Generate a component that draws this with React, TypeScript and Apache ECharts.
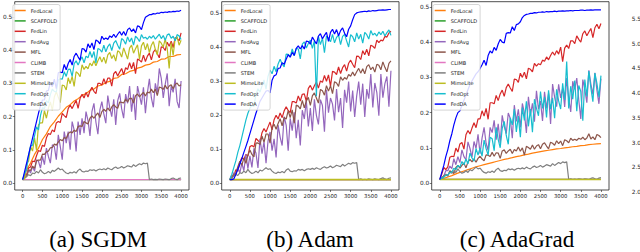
import React, { useEffect, useRef } from "react";
import * as echarts from "echarts";

const NAMES = ["FedLocal", "SCAFFOLD", "FedLin", "FedAvg", "MFL", "CLIMB", "STEM", "MimeLite", "FedOpt", "FedDA"];
const COLORS = ["#ff7f0e", "#2ca02c", "#d62728", "#9467bd", "#8c564b", "#e377c2", "#7f7f7f", "#bcbd22", "#17becf", "#0000ff"];
const CAPTIONS = ["(a) SGDM", "(b) Adam", "(c) AdaGrad"];
const X_TICKS = [0, 500, 1000, 1500, 2000, 2500, 3000, 3500, 4000];
const Y_TICKS = [0, 0.1, 0.2, 0.3, 0.4, 0.5];
const LAST_STEP = 4000;

const FLAT = [0.01, 0.01];

const STEM = [
  0.01, 0.015, 0.02, 0.025, 0.022, 0.03, 0.028, 0.035, 0.03, 0.04, 0.032,
  0.028, 0.03, 0.035, 0.03, 0.038, 0.035, 0.04, 0.045, 0.04, 0.042,
  0.035, 0.03, 0.028, 0.032, 0.03, 0.034, 0.03, 0.038, 0.042, 0.035,
  0.033, 0.036, 0.035, 0.04, 0.038, 0.04, 0.036, 0.04, 0.042, 0.04,
  0.043, 0.04, 0.045, 0.042, 0.04, 0.045, 0.048, 0.044, 0.046, 0.05,
  0.045, 0.048, 0.052, 0.05, 0.048, 0.055, 0.05, 0.054, 0.058, 0.055,
  0.06, 0.058, 0.06, 0.01, 0.012, 0.01, 0.011, 0.01, 0.012, 0.011,
  0.01, 0.012, 0.011, 0.01, 0.013, 0.015, 0.012, 0.01, 0.014, 0.015,
];

// ---- (a) SGDM ----
const SGDM_FEDLOCAL = [
  0.01, 0.04, 0.06, 0.086, 0.105, 0.131, 0.148, 0.17, 0.184, 0.201, 0.214,
  0.228, 0.236, 0.247, 0.254, 0.264, 0.269, 0.279, 0.283, 0.292, 0.295,
  0.303, 0.306, 0.315, 0.317, 0.327, 0.329, 0.336, 0.339, 0.346, 0.349,
  0.355, 0.357, 0.364, 0.366, 0.373, 0.374, 0.381, 0.381, 0.386, 0.387,
];
const SGDM_FEDLIN = [
  0.01, 0.023, 0.026, 0.045, 0.048, 0.066, 0.064, 0.082, 0.098, 0.095, 0.114,
  0.11, 0.136, 0.149, 0.146, 0.16, 0.154, 0.181, 0.185, 0.182, 0.21,
  0.203, 0.197, 0.224, 0.235, 0.224, 0.237, 0.249, 0.225, 0.255, 0.267,
  0.256, 0.273, 0.259, 0.277, 0.288, 0.276, 0.269, 0.3, 0.3, 0.295,
  0.314, 0.298, 0.316, 0.316, 0.292, 0.329, 0.336, 0.322, 0.334, 0.345,
  0.326, 0.347, 0.342, 0.362, 0.344, 0.363, 0.329, 0.373, 0.37, 0.364,
  0.385, 0.366, 0.382, 0.391, 0.371, 0.394, 0.402, 0.389, 0.377, 0.41,
  0.408, 0.399, 0.424, 0.412, 0.427, 0.408, 0.438, 0.435, 0.428, 0.452,
];
const SGDM_FEDAVG = [
  0.01, 0.015, 0.02, 0.04, 0.03, 0.05, 0.035, 0.07, 0.065, 0.045, 0.08,
  0.055, 0.105, 0.08, 0.06, 0.115, 0.11, 0.07, 0.145, 0.11, 0.07,
  0.155, 0.12, 0.155, 0.1, 0.185, 0.16, 0.095, 0.185, 0.145, 0.195,
  0.15, 0.215, 0.188, 0.142, 0.216, 0.24, 0.183, 0.147, 0.22, 0.245,
  0.208, 0.18, 0.263, 0.226, 0.2, 0.252, 0.175, 0.248, 0.27, 0.223,
  0.195, 0.268, 0.24, 0.292, 0.215, 0.267, 0.19, 0.292, 0.264, 0.236,
  0.288, 0.21, 0.272, 0.314, 0.256, 0.228, 0.3, 0.272, 0.345, 0.315,
  0.256, 0.298, 0.33, 0.231, 0.292, 0.273, 0.314, 0.245, 0.226, 0.307,
];
const SGDM_MFL = [
  0.01, 0.018, 0.019, 0.039, 0.038, 0.051, 0.044, 0.067, 0.069, 0.069, 0.087,
  0.086, 0.094, 0.096, 0.106, 0.107, 0.117, 0.114, 0.123, 0.131, 0.127,
  0.137, 0.134, 0.148, 0.154, 0.151, 0.159, 0.155, 0.17, 0.172, 0.17,
  0.185, 0.181, 0.178, 0.195, 0.202, 0.195, 0.204, 0.211, 0.197, 0.215,
  0.222, 0.216, 0.226, 0.217, 0.229, 0.236, 0.229, 0.225, 0.244, 0.243,
  0.241, 0.253, 0.244, 0.255, 0.255, 0.241, 0.263, 0.268, 0.259, 0.267,
  0.273, 0.262, 0.274, 0.271, 0.283, 0.272, 0.283, 0.263, 0.289, 0.287,
  0.282, 0.294, 0.283, 0.292, 0.296, 0.284, 0.297, 0.301, 0.292, 0.296,
];
const SGDM_MIMELITE = [
  0.01, 0.012, 0.058, 0.066, 0.11, 0.096, 0.136, 0.099, 0.175, 0.181, 0.181,
  0.218, 0.195, 0.225, 0.244, 0.219, 0.259, 0.275, 0.258, 0.242, 0.295,
  0.293, 0.28, 0.317, 0.299, 0.321, 0.291, 0.335, 0.33, 0.32, 0.356,
  0.342, 0.351, 0.344, 0.361, 0.353, 0.368, 0.353, 0.368, 0.38, 0.364,
  0.379, 0.36, 0.386, 0.393, 0.375, 0.386, 0.367, 0.398, 0.394, 0.379,
  0.407, 0.39, 0.373, 0.406, 0.415, 0.391, 0.404, 0.416, 0.373, 0.413,
  0.424, 0.401, 0.42, 0.393, 0.415, 0.426, 0.402, 0.386, 0.428, 0.421,
  0.409, 0.434, 0.405, 0.345, 0.423, 0.384, 0.434, 0.441, 0.415, 0.43,
];
const SGDM_FEDOPT = [
  0.01, 0.029, 0.04, 0.084, 0.111, 0.114, 0.142, 0.169, 0.16, 0.203, 0.227,
  0.224, 0.248, 0.241, 0.266, 0.283, 0.276, 0.274, 0.31, 0.314, 0.313,
  0.335, 0.321, 0.342, 0.343, 0.321, 0.359, 0.368, 0.355, 0.369, 0.38,
  0.362, 0.382, 0.377, 0.396, 0.378, 0.396, 0.362, 0.405, 0.402, 0.394,
  0.415, 0.395, 0.411, 0.419, 0.399, 0.421, 0.429, 0.415, 0.403, 0.435,
  0.43, 0.418, 0.44, 0.425, 0.437, 0.415, 0.442, 0.436, 0.426, 0.447,
  0.436, 0.439, 0.433, 0.442, 0.436, 0.444, 0.433, 0.441, 0.448, 0.435,
  0.444, 0.43, 0.446, 0.449, 0.436, 0.442, 0.428, 0.447, 0.443, 0.432,
];
const SGDM_FEDDA = [
  0.01, 0.035, 0.06, 0.085, 0.11, 0.135, 0.16, 0.185, 0.21, 0.232, 0.25,
  0.25, 0.277, 0.279, 0.303, 0.29, 0.313, 0.284, 0.332, 0.334, 0.332,
  0.357, 0.341, 0.36, 0.372, 0.355, 0.381, 0.391, 0.38, 0.37, 0.405,
  0.403, 0.394, 0.419, 0.407, 0.422, 0.402, 0.431, 0.427, 0.419, 0.442,
  0.432, 0.437, 0.432, 0.443, 0.438, 0.448, 0.438, 0.448, 0.456, 0.445,
  0.456, 0.444, 0.462, 0.467, 0.456, 0.464, 0.452, 0.473, 0.471, 0.462,
  0.483, 0.499, 0.503, 0.507, 0.507, 0.51, 0.509, 0.512, 0.511, 0.514,
  0.513, 0.515, 0.514, 0.516, 0.515, 0.517, 0.516, 0.518, 0.517, 0.52,
];

// ---- (b) Adam ----
const ADAM_FEDLIN = [
  0.01, 0.023, 0.02, 0.039, 0.035, 0.061, 0.074, 0.069, 0.084, 0.079, 0.107,
  0.11, 0.106, 0.131, 0.125, 0.12, 0.148, 0.16, 0.15, 0.165, 0.179,
  0.156, 0.186, 0.199, 0.188, 0.206, 0.192, 0.212, 0.224, 0.213, 0.207,
  0.239, 0.239, 0.235, 0.256, 0.241, 0.261, 0.262, 0.24, 0.278, 0.287,
  0.273, 0.286, 0.297, 0.279, 0.3, 0.296, 0.316, 0.299, 0.318, 0.285,
  0.328, 0.326, 0.319, 0.341, 0.322, 0.339, 0.348, 0.329, 0.352, 0.361,
  0.349, 0.339, 0.373, 0.372, 0.363, 0.389, 0.377, 0.393, 0.374, 0.405,
  0.402, 0.396, 0.42, 0.413, 0.42, 0.418, 0.431, 0.429, 0.441, 0.446,
];
const ADAM_FEDAVG = [
  0.01, 0.012, 0.03, 0.025, 0.045, 0.03, 0.058, 0.036, 0.084, 0.042, 0.08,
  0.046, 0.102, 0.088, 0.044, 0.13, 0.086, 0.122, 0.058, 0.124, 0.15,
  0.095, 0.13, 0.075, 0.17, 0.135, 0.11, 0.195, 0.17, 0.095, 0.19,
  0.154, 0.208, 0.132, 0.186, 0.11, 0.214, 0.188, 0.242, 0.166, 0.22,
  0.153, 0.246, 0.199, 0.172, 0.245, 0.228, 0.151, 0.274, 0.207, 0.25,
  0.232, 0.184, 0.276, 0.208, 0.25, 0.162, 0.274, 0.236, 0.298, 0.21,
  0.272, 0.194, 0.256, 0.298, 0.23, 0.292, 0.194, 0.276, 0.248, 0.32,
  0.222, 0.294, 0.266, 0.198, 0.32, 0.251, 0.292, 0.313, 0.224, 0.33,
];
const ADAM_MFL = [
  0.01, 0.015, 0.025, 0.028, 0.048, 0.064, 0.052, 0.074, 0.058, 0.082, 0.097,
  0.084, 0.077, 0.117, 0.118, 0.113, 0.138, 0.12, 0.144, 0.144, 0.117,
  0.163, 0.173, 0.158, 0.175, 0.189, 0.168, 0.193, 0.188, 0.213, 0.192,
  0.215, 0.176, 0.229, 0.226, 0.218, 0.243, 0.221, 0.241, 0.252, 0.228,
  0.256, 0.265, 0.25, 0.235, 0.275, 0.271, 0.258, 0.286, 0.27, 0.286,
  0.263, 0.298, 0.294, 0.284, 0.312, 0.302, 0.31, 0.305, 0.319, 0.314,
  0.326, 0.315, 0.327, 0.337, 0.323, 0.336, 0.321, 0.342, 0.348, 0.333,
  0.341, 0.326, 0.349, 0.346, 0.333, 0.356, 0.34, 0.327, 0.352, 0.359,
];
const ADAM_FEDOPT = [
  0.01, 0.025, 0.045, 0.065, 0.09, 0.11, 0.135, 0.16, 0.185, 0.205, 0.22,
  0.228, 0.225, 0.261, 0.277, 0.267, 0.285, 0.303, 0.276, 0.314, 0.332,
  0.321, 0.343, 0.327, 0.35, 0.364, 0.35, 0.341, 0.379, 0.378, 0.371,
  0.394, 0.374, 0.396, 0.394, 0.365, 0.408, 0.415, 0.397, 0.41, 0.42,
  0.396, 0.418, 0.255, 0.431, 0.407, 0.426, 0.383, 0.432, 0.426, 0.415,
  0.437, 0.412, 0.428, 0.435, 0.407, 0.431, 0.437, 0.418, 0.4, 0.436,
  0.43, 0.415, 0.441, 0.423, 0.437, 0.411, 0.443, 0.436, 0.423, 0.448,
  0.435, 0.44, 0.432, 0.444, 0.436, 0.446, 0.432, 0.442, 0.45, 0.434,
];
const ADAM_FEDDA = [
  0.01, 0.01, 0.012, 0.025, 0.04, 0.055, 0.072, 0.09, 0.107, 0.125, 0.145,
  0.165, 0.185, 0.205, 0.222, 0.24, 0.25, 0.26, 0.27, 0.272, 0.265,
  0.302, 0.315, 0.318, 0.337, 0.338, 0.354, 0.349, 0.364, 0.377, 0.37,
  0.384, 0.375, 0.396, 0.403, 0.394, 0.404, 0.394, 0.417, 0.416, 0.408,
  0.429, 0.419, 0.409, 0.432, 0.439, 0.424, 0.434, 0.443, 0.416, 0.443,
  0.452, 0.438, 0.451, 0.433, 0.448, 0.456, 0.44, 0.43, 0.452, 0.462,
  0.48, 0.495, 0.5, 0.502, 0.503, 0.504, 0.505, 0.504, 0.506, 0.505,
  0.507, 0.506, 0.507, 0.508, 0.508, 0.509, 0.508, 0.509, 0.51, 0.51,
];

// ---- (c) AdaGrad ----
const ADA_FEDLOCAL = [
  0.01, 0.013, 0.017, 0.021, 0.026, 0.03, 0.034, 0.038, 0.042, 0.046, 0.049,
  0.052, 0.055, 0.058, 0.061, 0.064, 0.067, 0.069, 0.072, 0.075, 0.077,
  0.08, 0.082, 0.085, 0.087, 0.089, 0.091, 0.093, 0.095, 0.097, 0.098,
  0.1, 0.101, 0.103, 0.104, 0.106, 0.107, 0.109, 0.11, 0.111, 0.112,
];
const ADA_FEDLIN = [
  0.01, 0.025, 0.044, 0.038, 0.046, 0.073, 0.076, 0.075, 0.099, 0.088, 0.111,
  0.115, 0.096, 0.137, 0.149, 0.139, 0.156, 0.171, 0.157, 0.182, 0.182,
  0.205, 0.19, 0.212, 0.181, 0.228, 0.228, 0.225, 0.249, 0.234, 0.253,
  0.264, 0.246, 0.271, 0.281, 0.27, 0.26, 0.295, 0.294, 0.286, 0.312,
  0.3, 0.315, 0.296, 0.326, 0.323, 0.316, 0.34, 0.332, 0.339, 0.336,
  0.349, 0.346, 0.358, 0.35, 0.362, 0.372, 0.363, 0.376, 0.366, 0.386,
  0.345, 0.383, 0.392, 0.382, 0.404, 0.404, 0.396, 0.418, 0.408, 0.4,
  0.424, 0.432, 0.418, 0.429, 0.439, 0.413, 0.441, 0.451, 0.438, 0.453,
];
const ADA_FEDAVG = [
  0.01, 0.015, 0.02, 0.035, 0.035, 0.048, 0.041, 0.069, 0.052, 0.075, 0.058,
  0.094, 0.075, 0.066, 0.117, 0.098, 0.073, 0.118, 0.098, 0.138, 0.083,
  0.128, 0.158, 0.113, 0.093, 0.158, 0.143, 0.178, 0.123, 0.168, 0.113,
  0.192, 0.161, 0.14, 0.199, 0.183, 0.127, 0.221, 0.175, 0.209, 0.158,
  0.226, 0.199, 0.142, 0.245, 0.193, 0.226, 0.174, 0.262, 0.21, 0.233,
  0.176, 0.259, 0.212, 0.255, 0.168, 0.281, 0.244, 0.217, 0.28, 0.242,
  0.269, 0.216, 0.298, 0.24, 0.202, 0.289, 0.266, 0.298, 0.235, 0.182,
  0.294, 0.266, 0.228, 0.32, 0.281, 0.252, 0.313, 0.264, 0.225, 0.296,
];
const ADA_MFL = [
  0.01, 0.011, 0.021, 0.023, 0.02, 0.035, 0.031, 0.027, 0.044, 0.05, 0.042,
  0.05, 0.057, 0.043, 0.06, 0.067, 0.06, 0.069, 0.059, 0.07, 0.076,
  0.068, 0.063, 0.08, 0.079, 0.075, 0.087, 0.076, 0.086, 0.085, 0.07,
  0.091, 0.094, 0.084, 0.091, 0.096, 0.084, 0.095, 0.091, 0.102, 0.09,
  0.1, 0.079, 0.104, 0.101, 0.096, 0.108, 0.096, 0.105, 0.109, 0.097,
  0.11, 0.114, 0.105, 0.097, 0.116, 0.113, 0.107, 0.12, 0.112, 0.119,
  0.106, 0.123, 0.12, 0.114, 0.127, 0.121, 0.124, 0.121, 0.127, 0.124,
  0.13, 0.123, 0.128, 0.14, 0.125, 0.131, 0.123, 0.138, 0.135, 0.129,
];
const ADA_FEDOPT = [
  0.01, 0.014, 0.016, 0.022, 0.023, 0.03, 0.031, 0.042, 0.038, 0.05, 0.045,
  0.061, 0.052, 0.068, 0.054, 0.085, 0.071, 0.062, 0.098, 0.079, 0.1,
  0.076, 0.122, 0.098, 0.079, 0.13, 0.126, 0.092, 0.158, 0.124, 0.1,
  0.155, 0.175, 0.135, 0.11, 0.185, 0.165, 0.21, 0.145, 0.19, 0.13,
  0.214, 0.178, 0.232, 0.161, 0.21, 0.144, 0.238, 0.212, 0.191, 0.26,
  0.212, 0.244, 0.186, 0.263, 0.21, 0.242, 0.184, 0.266, 0.233, 0.21,
  0.283, 0.236, 0.345, 0.212, 0.275, 0.238, 0.291, 0.204, 0.277, 0.26,
  0.177, 0.294, 0.246, 0.318, 0.27, 0.231, 0.312, 0.283, 0.244, 0.305,
];
const ADA_FEDDA = [
  0.01, 0.03, 0.05, 0.075, 0.095, 0.12, 0.14, 0.165, 0.185, 0.2, 0.205,
  0.22, 0.235, 0.25, 0.265, 0.28, 0.29, 0.3, 0.31, 0.316, 0.325,
  0.336, 0.349, 0.334, 0.362, 0.375, 0.369, 0.385, 0.377, 0.395, 0.408,
  0.4, 0.398, 0.425, 0.427, 0.426, 0.444, 0.433, 0.45, 0.452, 0.458,
  0.47, 0.476, 0.479, 0.48, 0.482, 0.482, 0.484, 0.483, 0.485, 0.485,
  0.486, 0.485, 0.487, 0.486, 0.487, 0.487, 0.488, 0.487, 0.488, 0.488,
  0.489, 0.488, 0.489, 0.489, 0.49, 0.489, 0.49, 0.49, 0.49, 0.491,
  0.491, 0.49, 0.491, 0.491, 0.492, 0.491, 0.492, 0.492, 0.492, 0.492,
];

const PANEL_SERIES = [
  [SGDM_FEDLOCAL, FLAT, SGDM_FEDLIN, SGDM_FEDAVG, SGDM_MFL, FLAT, STEM, SGDM_MIMELITE, SGDM_FEDOPT, SGDM_FEDDA],
  [FLAT, FLAT, ADAM_FEDLIN, ADAM_FEDAVG, ADAM_MFL, FLAT, STEM, FLAT, ADAM_FEDOPT, ADAM_FEDDA],
  [ADA_FEDLOCAL, FLAT, ADA_FEDLIN, ADA_FEDAVG, ADA_MFL, FLAT, STEM, FLAT, ADA_FEDOPT, ADA_FEDDA],
];

const PANEL_LEFT = [11.7, 221.7, 431.7];
const PANEL_W = 177.3;
const PANEL_TOP = 1.7;
const PANEL_H = 188.3;
const Y_RANGE = [
  [-0.0211, 0.546],
  [-0.0206, 0.533],
  [-0.0199, 0.515],
];
const CAPTION_X = [98, 310, 517];

const toXY = (vals: number[]) => vals.map((v, i) => [(i * LAST_STEP) / (vals.length - 1), v]);

const FONT = "DejaVu Sans";
const INK = "#222";

export default function App() {
  const ref = useRef<HTMLDivElement>(null);

  useEffect(() => {
    if (!ref.current) return;
    const chart = echarts.init(ref.current, undefined, { renderer: "svg" });

    const grids: any[] = PANEL_LEFT.map((left) => ({
      left,
      top: PANEL_TOP,
      width: PANEL_W,
      height: PANEL_H,
      show: true,
      borderColor: INK,
      borderWidth: 0.8,
      backgroundColor: "transparent",
      containLabel: false,
    }));
    grids.push({ left: 644, top: 19, width: 40, height: 173, show: false, containLabel: false });

    const xAxes: any[] = PANEL_LEFT.map((_, i) => ({
      type: "value",
      gridIndex: i,
      min: -200,
      max: 4200,
      axisLine: { show: false, onZero: false },
      splitLine: { show: false },
      axisTick: { show: true, length: 2, customValues: X_TICKS, lineStyle: { color: INK, width: 0.6 } },
      axisLabel: {
        customValues: X_TICKS,
        fontSize: 5.3,
        fontFamily: FONT,
        color: INK,
        margin: 3.5,
        formatter: (v: number) => String(v),
      },
    }));
    xAxes.push({ type: "value", gridIndex: 3, min: 0, max: 1, show: false, axisLine: { onZero: false } });

    const yAxes: any[] = PANEL_LEFT.map((_, i) => ({
      type: "value",
      gridIndex: i,
      min: Y_RANGE[i][0],
      max: Y_RANGE[i][1],
      axisLine: { show: false, onZero: false },
      splitLine: { show: false },
      axisTick: { show: true, length: 2, customValues: Y_TICKS, lineStyle: { color: INK, width: 0.6 } },
      axisLabel: {
        customValues: Y_TICKS,
        fontSize: 5.8,
        fontFamily: FONT,
        color: INK,
        margin: 2.5,
        formatter: (v: number) => v.toFixed(1),
      },
    }));
    yAxes.push({
      type: "value",
      gridIndex: 3,
      min: 2,
      max: 5.5,
      interval: 0.5,
      axisLine: { show: false, onZero: false },
      axisTick: { show: false },
      splitLine: { show: false },
      axisLabel: { fontSize: 5.8, fontFamily: FONT, color: INK, margin: 3, formatter: (v: number) => v.toFixed(1) },
    });

    const legends = PANEL_LEFT.map((left) => ({
      data: NAMES,
      orient: "vertical",
      left: left + 1.2,
      top: 4.5,
      icon: "rect",
      itemWidth: 11,
      itemHeight: 1.5,
      itemGap: 2.4,
      padding: [2, 3, 2, 1.8],
      backgroundColor: "rgba(255,255,255,0.85)",
      borderColor: "#cccccc",
      borderWidth: 0.8,
      borderRadius: 2,
      selectedMode: false,
      textStyle: { fontSize: 5, fontFamily: FONT, color: INK, lineHeight: 8 },
    }));

    const series: any[] = [];
    PANEL_SERIES.forEach((list, p) => {
      list.forEach((vals, k) => {
        series.push({
          type: "line",
          name: NAMES[k],
          xAxisIndex: p,
          yAxisIndex: p,
          data: toXY(vals),
          symbol: "none",
          showSymbol: false,
          color: COLORS[k],
          itemStyle: { color: COLORS[k] },
          lineStyle: { color: COLORS[k], width: k === 7 && p > 0 ? 1.5 : 1.2 },
          silent: true,
          emphasis: { disabled: true },
        });
      });
    });

    chart.setOption({
      animation: false,
      backgroundColor: "#ffffff",
      grid: grids,
      xAxis: xAxes,
      yAxis: yAxes,
      legend: legends,
      series,
      graphic: CAPTIONS.map((text, i) => ({
        type: "text",
        x: CAPTION_X[i],
        y: 239.5,
        style: {
          text,
          fontSize: 23,
          fontFamily: "Liberation Serif",
          fill: "#000",
          align: "center",
          verticalAlign: "middle",
        },
      })),
    });

    return () => chart.dispose();
  }, []);

  return <div ref={ref} style={{ position: "fixed", left: 0, top: 0, width: 640, height: 252 }} />;
}
